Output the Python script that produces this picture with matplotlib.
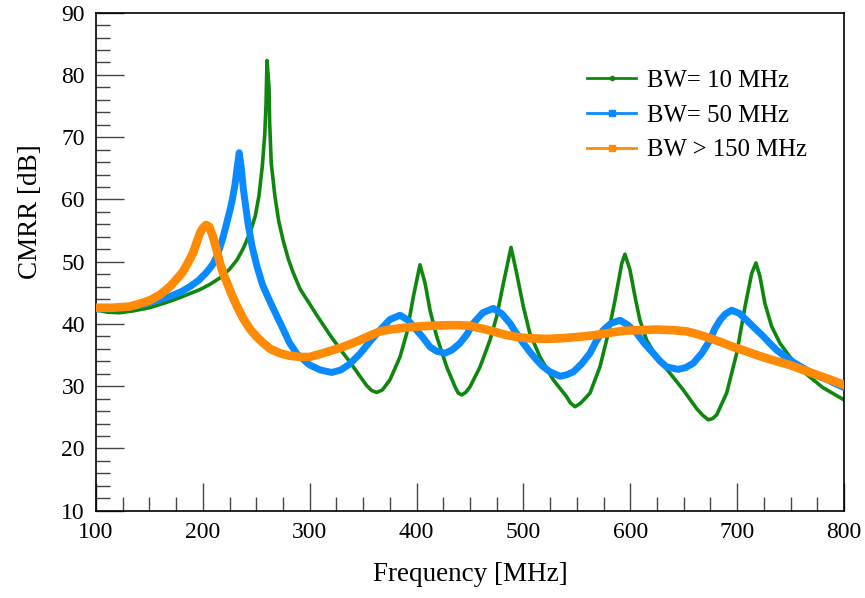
import matplotlib
matplotlib.use("Agg")
import matplotlib.pyplot as plt
from matplotlib.lines import Line2D
from matplotlib.ticker import MultipleLocator

# CMRR versus frequency for three bandwidth settings
freq_bw10 = [100, 110, 122, 135, 150, 165, 178, 197, 207, 216, 225, 232, 238, 244,
             249, 252.5, 255.6, 257.9, 259.1, 260, 261.9, 262.5, 264, 267.5, 271,
             275, 280, 284.4, 291, 300, 307, 319, 330, 338, 347, 353.3, 358, 362.7,
             368, 375, 384.5, 390.8, 397, 403.2, 408, 412.6, 418.8, 428.2, 436, 439,
             442.2, 446, 450, 459.4, 468.7, 475, 481.2, 488.4, 493.7, 499.9, 506,
             515.5, 528, 540.5, 544, 548.3, 553, 557, 562.3, 571.6, 579.4, 585.7,
             592, 595, 599.7, 604.4, 609, 615.3, 624.7, 637.1, 649.6, 662.1, 668,
             673, 677, 680.9, 690.2, 699.6, 707.4, 713.6, 717.6, 721.4, 726, 732.3,
             740.1, 749.4, 761.6, 780, 800]
cmrr_bw10 = [42.3, 41.9, 41.8, 42.1, 42.6, 43.4, 44.2, 45.5, 46.4, 47.4, 48.8, 50.3,
             52.2, 54.6, 57.3, 60.6, 65.3, 70.4, 75.2, 82.3, 78.1, 72.3, 65.8, 60.4,
             56.5, 53.5, 50.4, 48.3, 45.6, 43.2, 41.3, 38.2, 35.6, 33.8, 31.6, 30.1,
             29.3, 29.0, 29.4, 31.0, 34.7, 38.5, 44.4, 49.5, 46.5, 42.2, 38.0, 33.1,
             29.9, 28.9, 28.6, 29.0, 29.9, 33.1, 37.4, 41.2, 46.5, 52.3, 48.1, 42.8,
             38.5, 34.7, 31.0, 28.3, 27.3, 26.7, 27.2, 27.9, 28.9, 33.1, 38.5, 43.8,
             49.7, 51.2, 48.7, 44.4, 40.6, 37.4, 34.7, 32.1, 29.4, 26.4, 25.3, 24.6,
             24.8, 25.4, 28.9, 35.3, 42.8, 48.1, 49.8, 47.6, 43.3, 39.6, 36.9, 34.7,
             32.4, 29.8, 27.8]

freq_bw50 = [100, 120, 141, 155, 169, 180, 188, 196, 204, 209, 213, 216, 219, 222,
             225.4, 227, 230, 232, 234, 236, 238, 240, 242.2, 246, 250.7, 256, 262.8,
             269.4, 275, 281, 288, 300, 310, 320.6, 329, 337, 347, 356, 365.7, 375,
             384.5, 392, 400, 406, 412.6, 419, 426.6, 433, 440.6, 447, 453, 462, 471.8,
             480, 487.4, 493, 499.9, 506, 512.4, 518, 524.9, 534.2, 540, 546.7, 554,
             562.3, 568, 574.7, 582, 590.4, 598, 606, 613, 621.5, 628, 634, 644.9,
             652, 659, 667, 674.6, 679, 684, 689, 694.9, 702, 708.9, 716, 724.5, 730,
             737, 743, 749.4, 757, 768, 776, 785, 792, 800]
cmrr_bw50 = [42.4, 42.6, 43.0, 43.7, 44.4, 45.2, 46.0, 47.0, 48.4, 49.5, 50.8, 52.3,
             54.0, 56.0, 58.3, 59.5, 62.3, 65.0, 67.5, 65.0, 61.5, 59.0, 56.2, 52.5,
             49.2, 46.2, 43.6, 41.2, 39.2, 37.0, 35.2, 33.4, 32.6, 32.2, 32.6, 33.5,
             35.2, 37.1, 39.0, 40.7, 41.4, 40.6, 39.0, 37.8, 36.3, 35.6, 35.3, 35.8,
             36.9, 38.3, 40.1, 41.8, 42.5, 41.6, 40.1, 38.6, 36.9, 35.5, 34.2, 33.2,
             32.3, 31.6, 31.8, 32.3, 33.5, 35.3, 37.2, 39.0, 40.1, 40.6, 39.8, 38.5,
             36.9, 35.3, 34.0, 33.1, 32.7, 33.0, 33.7, 35.3, 37.4, 39.2, 40.6, 41.6,
             42.2, 41.7, 40.6, 39.4, 38.0, 37.0, 35.8, 35.0, 34.2, 33.4, 32.3, 31.6,
             31.0, 30.4, 29.8]

freq_bw150 = [100, 115, 131.8, 140, 150.5, 160, 169.2, 175, 181.4, 186, 190.8, 194,
              197.3, 200, 203, 206, 209.5, 213, 216, 219, 222.6, 227, 232, 238, 244,
              250, 256, 263, 272, 281, 291, 300, 312.4, 320, 331, 340, 347, 356,
              365.7, 375, 393.8, 412, 431.3, 440, 450, 460, 471.8, 482, 493.7, 505,
              521.8, 536, 550, 562.3, 578, 593.5, 608, 624.7, 640, 652.8, 664, 674.6,
              686, 696.4, 707, 718.3, 733, 749.4, 762, 775, 788, 800]
cmrr_bw150 = [42.6, 42.6, 42.8, 43.2, 43.8, 44.7, 46.0, 47.1, 48.4, 49.8, 51.4, 53.0,
              54.6, 55.4, 55.9, 55.6, 54.0, 51.8, 49.8, 48.1, 46.6, 44.7, 42.8, 40.8,
              39.2, 38.0, 37.0, 36.0, 35.3, 34.9, 34.7, 34.7, 35.3, 35.7, 36.3, 36.9,
              37.4, 38.1, 38.8, 39.1, 39.5, 39.7, 39.8, 39.8, 39.7, 39.3, 38.8, 38.3,
              37.9, 37.7, 37.6, 37.7, 37.9, 38.1, 38.5, 38.9, 39.0, 39.1, 39.0, 38.8,
              38.3, 37.7, 37.0, 36.3, 35.7, 35.0, 34.2, 33.4, 32.6, 31.8, 31.0, 30.2]

series_labels = ["BW= 10 MHz", "BW= 50 MHz", "BW > 150 MHz"]
series_colors = ["#0f870f", "#0a8aff", "#ff8a05"]

plt.rcParams["font.family"] = ["Liberation Serif", "DejaVu Serif"]

fig = plt.figure(figsize=(8.65, 5.98), dpi=100)
ax = fig.add_axes([0.111, 0.146, 0.8647, 0.8328])

line_style = dict(solid_joinstyle="round", solid_capstyle="round")
ax.plot(freq_bw10, cmrr_bw10, color=series_colors[0], lw=2.6, zorder=2, **line_style)
ax.plot(freq_bw50, cmrr_bw50, color=series_colors[1], lw=5.0, zorder=3, **line_style)
ax.plot(freq_bw150, cmrr_bw150, color=series_colors[2], lw=6.2, zorder=4, **line_style)

ax.set_xlim(100, 800)
ax.set_ylim(10, 90)
ax.xaxis.set_major_locator(MultipleLocator(100))
ax.xaxis.set_minor_locator(MultipleLocator(25))
ax.yaxis.set_major_locator(MultipleLocator(10))
ax.yaxis.set_minor_locator(MultipleLocator(2))
ax.tick_params(which="both", direction="in", top=False, right=False,
               color="#444444", width=1.0, labelsize=17)
ax.tick_params(which="major", length=20, pad=8)
ax.tick_params(which="minor", length=10)
for sp in ax.spines.values():
    sp.set_linewidth(1.2)

ax.set_xlabel("Frequency [MHz]", fontsize=19.5, labelpad=14)
ax.set_ylabel("CMRR [dB]", fontsize=19.5, va="center")
ax.yaxis.set_label_coords(-0.088, 0.60)

handles = [
    Line2D([], [], color=series_colors[0], lw=2, marker="o", ms=3),
    Line2D([], [], color=series_colors[1], lw=2, marker="s", ms=5),
    Line2D([], [], color=series_colors[2], lw=2, marker="s", ms=5),
]
ax.legend(handles, series_labels, loc="upper right", bbox_to_anchor=(0.98, 0.93),
          frameon=False, fontsize=17.8, handlelength=1.95, handletextpad=0.45,
          labelspacing=0.5)

fig.savefig("out.png", dpi=100)
